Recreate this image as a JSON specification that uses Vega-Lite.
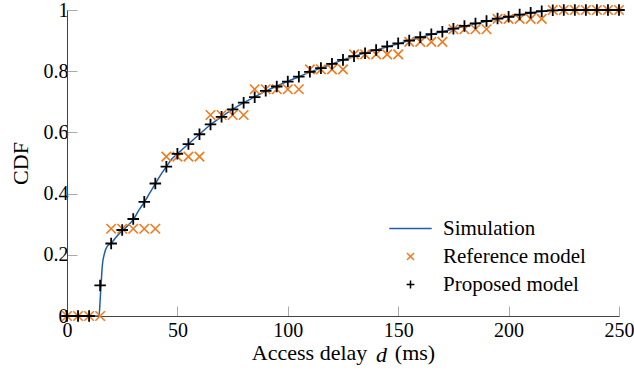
{
  "$schema": "https://vega.github.io/schema/vega-lite/v6.json",
  "width": 552,
  "height": 306,
  "autosize": {"type": "none"},
  "padding": {"left": 67, "top": 10, "right": 15, "bottom": 59},
  "background": "white",
  "config": {
    "font": "Liberation Serif",
    "view": {"stroke": null},
    "axis": {
      "domainColor": "#444444",
      "domainWidth": 1,
      "tickColor": "#aaaaaa",
      "tickWidth": 1,
      "tickSize": -10,
      "labelFlush": false,
      "labelOverlap": false,
      "labelFont": "Liberation Serif",
      "labelFontSize": 20,
      "labelColor": "black",
      "titleFont": "Liberation Serif",
      "titleFontSize": 22,
      "titleFontWeight": "normal",
      "titleColor": "black",
      "grid": false
    },
    "legend": {
      "labelFont": "Liberation Serif",
      "labelFontSize": 21,
      "labelColor": "black"
    }
  },
  "resolve": {"scale": {"x": "independent"}, "axis": {"x": "independent"}},
  "datasets": {
    "sim": [
      {"d": 0, "cdf": 0, "series": "Simulation"},
      {"d": 14.5, "cdf": 0, "series": "Simulation"},
      {"d": 15, "cdf": 0.05, "series": "Simulation"},
      {"d": 15.5, "cdf": 0.11, "series": "Simulation"},
      {"d": 16, "cdf": 0.165, "series": "Simulation"},
      {"d": 17, "cdf": 0.205, "series": "Simulation"},
      {"d": 18, "cdf": 0.225, "series": "Simulation"},
      {"d": 20, "cdf": 0.238, "series": "Simulation"},
      {"d": 22.5, "cdf": 0.26, "series": "Simulation"},
      {"d": 25, "cdf": 0.279, "series": "Simulation"},
      {"d": 27.5, "cdf": 0.295, "series": "Simulation"},
      {"d": 30, "cdf": 0.315, "series": "Simulation"},
      {"d": 32.5, "cdf": 0.345, "series": "Simulation"},
      {"d": 35, "cdf": 0.372, "series": "Simulation"},
      {"d": 37.5, "cdf": 0.402, "series": "Simulation"},
      {"d": 40, "cdf": 0.432, "series": "Simulation"},
      {"d": 42.5, "cdf": 0.462, "series": "Simulation"},
      {"d": 45, "cdf": 0.488, "series": "Simulation"},
      {"d": 47.5, "cdf": 0.513, "series": "Simulation"},
      {"d": 50, "cdf": 0.53, "series": "Simulation"},
      {"d": 55, "cdf": 0.562, "series": "Simulation"},
      {"d": 60, "cdf": 0.594, "series": "Simulation"},
      {"d": 65, "cdf": 0.625, "series": "Simulation"},
      {"d": 70, "cdf": 0.651, "series": "Simulation"},
      {"d": 75, "cdf": 0.675, "series": "Simulation"},
      {"d": 80, "cdf": 0.697, "series": "Simulation"},
      {"d": 85, "cdf": 0.716, "series": "Simulation"},
      {"d": 90, "cdf": 0.735, "series": "Simulation"},
      {"d": 95, "cdf": 0.751, "series": "Simulation"},
      {"d": 100, "cdf": 0.767, "series": "Simulation"},
      {"d": 105, "cdf": 0.782, "series": "Simulation"},
      {"d": 110, "cdf": 0.797, "series": "Simulation"},
      {"d": 115, "cdf": 0.81, "series": "Simulation"},
      {"d": 120, "cdf": 0.824, "series": "Simulation"},
      {"d": 125, "cdf": 0.837, "series": "Simulation"},
      {"d": 130, "cdf": 0.849, "series": "Simulation"},
      {"d": 135, "cdf": 0.859, "series": "Simulation"},
      {"d": 140, "cdf": 0.869, "series": "Simulation"},
      {"d": 145, "cdf": 0.88, "series": "Simulation"},
      {"d": 150, "cdf": 0.89, "series": "Simulation"},
      {"d": 155, "cdf": 0.9, "series": "Simulation"},
      {"d": 160, "cdf": 0.91, "series": "Simulation"},
      {"d": 165, "cdf": 0.92, "series": "Simulation"},
      {"d": 170, "cdf": 0.929, "series": "Simulation"},
      {"d": 175, "cdf": 0.938, "series": "Simulation"},
      {"d": 180, "cdf": 0.947, "series": "Simulation"},
      {"d": 185, "cdf": 0.955, "series": "Simulation"},
      {"d": 190, "cdf": 0.963, "series": "Simulation"},
      {"d": 195, "cdf": 0.971, "series": "Simulation"},
      {"d": 200, "cdf": 0.978, "series": "Simulation"},
      {"d": 205, "cdf": 0.984, "series": "Simulation"},
      {"d": 210, "cdf": 0.99, "series": "Simulation"},
      {"d": 215, "cdf": 0.995, "series": "Simulation"},
      {"d": 220, "cdf": 0.998, "series": "Simulation"},
      {"d": 225, "cdf": 1, "series": "Simulation"},
      {"d": 250, "cdf": 1, "series": "Simulation"}
    ],
    "ref": [
      {"d": 0, "cdf": 0, "series": "Reference model"},
      {"d": 5, "cdf": 0, "series": "Reference model"},
      {"d": 10, "cdf": 0, "series": "Reference model"},
      {"d": 15, "cdf": 0, "series": "Reference model"},
      {"d": 20, "cdf": 0.285, "series": "Reference model"},
      {"d": 25, "cdf": 0.285, "series": "Reference model"},
      {"d": 30, "cdf": 0.285, "series": "Reference model"},
      {"d": 35, "cdf": 0.285, "series": "Reference model"},
      {"d": 40, "cdf": 0.285, "series": "Reference model"},
      {"d": 45, "cdf": 0.521, "series": "Reference model"},
      {"d": 50, "cdf": 0.521, "series": "Reference model"},
      {"d": 55, "cdf": 0.521, "series": "Reference model"},
      {"d": 60, "cdf": 0.521, "series": "Reference model"},
      {"d": 65, "cdf": 0.657, "series": "Reference model"},
      {"d": 70, "cdf": 0.657, "series": "Reference model"},
      {"d": 75, "cdf": 0.657, "series": "Reference model"},
      {"d": 80, "cdf": 0.657, "series": "Reference model"},
      {"d": 85, "cdf": 0.741, "series": "Reference model"},
      {"d": 90, "cdf": 0.741, "series": "Reference model"},
      {"d": 95, "cdf": 0.741, "series": "Reference model"},
      {"d": 100, "cdf": 0.741, "series": "Reference model"},
      {"d": 105, "cdf": 0.741, "series": "Reference model"},
      {"d": 110, "cdf": 0.806, "series": "Reference model"},
      {"d": 115, "cdf": 0.806, "series": "Reference model"},
      {"d": 120, "cdf": 0.806, "series": "Reference model"},
      {"d": 125, "cdf": 0.806, "series": "Reference model"},
      {"d": 130, "cdf": 0.855, "series": "Reference model"},
      {"d": 135, "cdf": 0.855, "series": "Reference model"},
      {"d": 140, "cdf": 0.855, "series": "Reference model"},
      {"d": 145, "cdf": 0.855, "series": "Reference model"},
      {"d": 150, "cdf": 0.855, "series": "Reference model"},
      {"d": 155, "cdf": 0.896, "series": "Reference model"},
      {"d": 160, "cdf": 0.896, "series": "Reference model"},
      {"d": 165, "cdf": 0.896, "series": "Reference model"},
      {"d": 170, "cdf": 0.896, "series": "Reference model"},
      {"d": 175, "cdf": 0.937, "series": "Reference model"},
      {"d": 180, "cdf": 0.937, "series": "Reference model"},
      {"d": 185, "cdf": 0.937, "series": "Reference model"},
      {"d": 190, "cdf": 0.937, "series": "Reference model"},
      {"d": 195, "cdf": 0.971, "series": "Reference model"},
      {"d": 200, "cdf": 0.971, "series": "Reference model"},
      {"d": 205, "cdf": 0.971, "series": "Reference model"},
      {"d": 210, "cdf": 0.971, "series": "Reference model"},
      {"d": 215, "cdf": 0.971, "series": "Reference model"},
      {"d": 220, "cdf": 1, "series": "Reference model"},
      {"d": 225, "cdf": 1, "series": "Reference model"},
      {"d": 230, "cdf": 1, "series": "Reference model"},
      {"d": 235, "cdf": 1, "series": "Reference model"},
      {"d": 240, "cdf": 1, "series": "Reference model"},
      {"d": 245, "cdf": 1, "series": "Reference model"},
      {"d": 250, "cdf": 1, "series": "Reference model"}
    ],
    "prop": [
      {"d": 0, "cdf": 0, "series": "Proposed model"},
      {"d": 5, "cdf": 0, "series": "Proposed model"},
      {"d": 10, "cdf": 0, "series": "Proposed model"},
      {"d": 15, "cdf": 0.1, "series": "Proposed model"},
      {"d": 20, "cdf": 0.237, "series": "Proposed model"},
      {"d": 25, "cdf": 0.281, "series": "Proposed model"},
      {"d": 30, "cdf": 0.317, "series": "Proposed model"},
      {"d": 35, "cdf": 0.373, "series": "Proposed model"},
      {"d": 40, "cdf": 0.433, "series": "Proposed model"},
      {"d": 45, "cdf": 0.488, "series": "Proposed model"},
      {"d": 50, "cdf": 0.53, "series": "Proposed model"},
      {"d": 55, "cdf": 0.562, "series": "Proposed model"},
      {"d": 60, "cdf": 0.594, "series": "Proposed model"},
      {"d": 65, "cdf": 0.626, "series": "Proposed model"},
      {"d": 70, "cdf": 0.651, "series": "Proposed model"},
      {"d": 75, "cdf": 0.675, "series": "Proposed model"},
      {"d": 80, "cdf": 0.697, "series": "Proposed model"},
      {"d": 85, "cdf": 0.715, "series": "Proposed model"},
      {"d": 90, "cdf": 0.736, "series": "Proposed model"},
      {"d": 95, "cdf": 0.75, "series": "Proposed model"},
      {"d": 100, "cdf": 0.766, "series": "Proposed model"},
      {"d": 105, "cdf": 0.782, "series": "Proposed model"},
      {"d": 110, "cdf": 0.798, "series": "Proposed model"},
      {"d": 115, "cdf": 0.81, "series": "Proposed model"},
      {"d": 120, "cdf": 0.824, "series": "Proposed model"},
      {"d": 125, "cdf": 0.837, "series": "Proposed model"},
      {"d": 130, "cdf": 0.849, "series": "Proposed model"},
      {"d": 135, "cdf": 0.859, "series": "Proposed model"},
      {"d": 140, "cdf": 0.869, "series": "Proposed model"},
      {"d": 145, "cdf": 0.881, "series": "Proposed model"},
      {"d": 150, "cdf": 0.891, "series": "Proposed model"},
      {"d": 155, "cdf": 0.9, "series": "Proposed model"},
      {"d": 160, "cdf": 0.911, "series": "Proposed model"},
      {"d": 165, "cdf": 0.921, "series": "Proposed model"},
      {"d": 170, "cdf": 0.929, "series": "Proposed model"},
      {"d": 175, "cdf": 0.939, "series": "Proposed model"},
      {"d": 180, "cdf": 0.948, "series": "Proposed model"},
      {"d": 185, "cdf": 0.956, "series": "Proposed model"},
      {"d": 190, "cdf": 0.964, "series": "Proposed model"},
      {"d": 195, "cdf": 0.972, "series": "Proposed model"},
      {"d": 200, "cdf": 0.978, "series": "Proposed model"},
      {"d": 205, "cdf": 0.985, "series": "Proposed model"},
      {"d": 210, "cdf": 0.991, "series": "Proposed model"},
      {"d": 215, "cdf": 0.996, "series": "Proposed model"},
      {"d": 220, "cdf": 0.999, "series": "Proposed model"},
      {"d": 225, "cdf": 1, "series": "Proposed model"},
      {"d": 230, "cdf": 1, "series": "Proposed model"},
      {"d": 235, "cdf": 1, "series": "Proposed model"},
      {"d": 240, "cdf": 1, "series": "Proposed model"},
      {"d": 245, "cdf": 1, "series": "Proposed model"},
      {"d": 250, "cdf": 1, "series": "Proposed model"}
    ]
  },
  "encoding": {
    "y": {
      "field": "cdf",
      "type": "quantitative",
      "scale": {"domain": [0, 1], "nice": false, "zero": false},
      "axis": {
        "values": [0, 0.2, 0.4, 0.6, 0.8, 1],
        "format": ".1~f",
        "title": "CDF",
        "labelPadding": 9,
        "titlePadding": 11
      }
    },
    "color": {
      "field": "series",
      "type": "nominal",
      "scale": {
        "domain": ["Simulation", "Reference model", "Proposed model"],
        "range": ["#1f5fa8", "#f07a1e", "#000000"]
      },
      "legend": {
        "title": null,
        "orient": "none",
        "legendX": 333,
        "legendY": 208,
        "padding": 0,
        "labelOffset": 22,
        "rowPadding": 6,
        "symbolSize": 50,
        "symbolStrokeWidth": 1.5
      }
    }
  },
  "layer": [
    {
      "data": {"name": "sim"},
      "mark": {"type": "line", "interpolate": "monotone", "strokeWidth": 1.5},
      "encoding": {
        "x": {
          "field": "d",
          "type": "quantitative",
          "scale": {"domain": [0, 250], "nice": false, "zero": false},
          "axis": {
            "orient": "bottom",
            "values": [0, 50, 100, 150, 200, 250],
            "title": "Access delay\u00a0\u00a0\u00a0\u00a0\u00a0(ms)",
            "labelPadding": 14,
            "titlePadding": 2
          }
        }
      }
    },
    {
      "data": {"name": "ref"},
      "mark": {"type": "point", "filled": false, "size": 90, "strokeWidth": 1.6, "opacity": 1},
      "encoding": {
        "x": {
          "field": "d",
          "type": "quantitative",
          "scale": {"domain": [0, 250], "nice": false, "zero": false},
          "axis": {
            "orient": "top",
            "domain": false,
            "ticks": false,
            "labels": false,
            "title": "d",
            "titleFontStyle": "italic",
            "titleX": 314,
            "titleY": 351,
            "titleAlign": "center",
            "titleBaseline": "alphabetic",
            "titleAngle": 0
          }
        },
        "shape": {
          "field": "series",
          "type": "nominal",
          "scale": {
            "domain": ["Simulation", "Reference model", "Proposed model"],
            "range": ["M-6,0H6", "M-1,-1L1,1M-1,1L1,-1", "M-1.1,0H1.1M0,-1.1V1.1"]
          },
          "legend": {
            "title": null,
            "orient": "none",
            "legendX": 333,
            "legendY": 208,
            "padding": 0,
            "labelOffset": 22,
            "rowPadding": 6,
            "symbolSize": 50,
            "symbolStrokeWidth": 1.5
          }
        }
      }
    },
    {
      "data": {"name": "prop"},
      "mark": {"type": "point", "filled": false, "size": 110, "strokeWidth": 1.8, "opacity": 1},
      "encoding": {
        "x": {
          "field": "d",
          "type": "quantitative",
          "scale": {"domain": [0, 250], "nice": false, "zero": false},
          "axis": null
        },
        "shape": {
          "field": "series",
          "type": "nominal",
          "scale": {
            "domain": ["Simulation", "Reference model", "Proposed model"],
            "range": ["M-6,0H6", "M-1,-1L1,1M-1,1L1,-1", "M-1.1,0H1.1M0,-1.1V1.1"]
          },
          "legend": {
            "title": null,
            "orient": "none",
            "legendX": 333,
            "legendY": 208,
            "padding": 0,
            "labelOffset": 22,
            "rowPadding": 6,
            "symbolSize": 50,
            "symbolStrokeWidth": 1.5
          }
        }
      }
    }
  ]
}
